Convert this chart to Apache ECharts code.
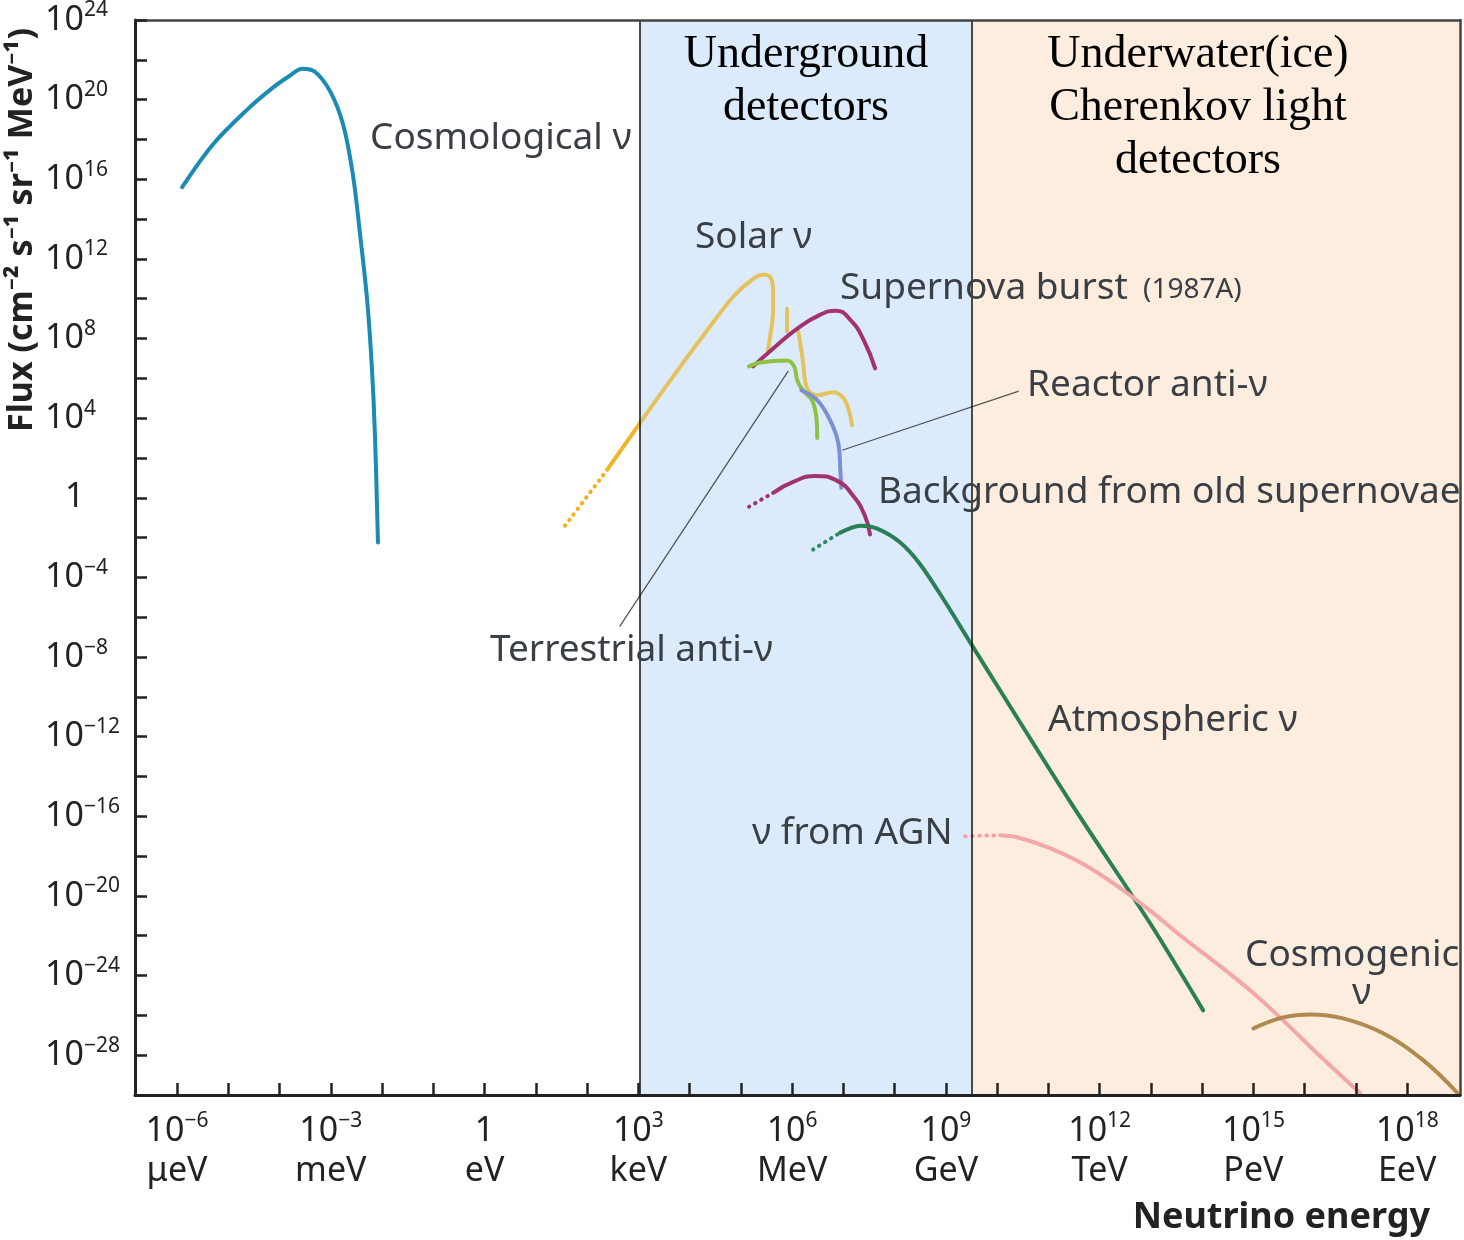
<!DOCTYPE html>
<html>
<head>
<meta charset="utf-8">
<script src="https://cdn.jsdelivr.net/npm/echarts@6/dist/echarts.min.js"></script>
<style>
  html, body { margin: 0; padding: 0; background: #fff; }
  #chart { width: 1464px; height: 1240px; }
</style>
</head>
<body>
<div id="chart"></div>
<script>
// every value is log10: energy in eV, flux in cm^-2 s^-1 sr^-1 MeV^-1
const xTicks = [-6, -5, -4, -3, -2, -1, 0, 1, 2, 3, 4, 5, 6, 7, 8, 9, 10, 11, 12, 13, 14, 15, 16, 17, 18];
const xLabelExp = [-6, -3, 0, 3, 6, 9, 12, 15, 18];
const xUnits = ["μeV", "meV", "eV", "keV", "MeV", "GeV", "TeV", "PeV", "EeV"];

const undergroundRange = [3.03, 9.51];
const underwaterRange = [9.51, 19.03];

const cosmoE = [-5.90, -5.30, -4.63, -4.13, -3.80, -3.56, -3.31, -3.01, -2.76, -2.57, -2.43, -2.29, -2.20, -2.14, -2.08];
const cosmoF = [15.6, 17.75, 19.5, 20.6, 21.2, 21.55, 21.4, 20.4, 18.75, 16.25, 13.25, 9.9, 6.6, 3.25, -2.25];

const solarDotE = [1.57, 2.39];
const solarDotF = [-1.4, 1.4];
const solarLowE = [2.39, 3.03];
const solarLowF = [1.4, 3.75];
const solarPpE = [3.03, 3.68, 4.34, 4.85, 5.24, 5.43, 5.57, 5.63, 5.63, 5.57, 5.53];
const solarPpF = [3.75, 6.1, 8.4, 10.1, 11.0, 11.2, 11.1, 10.4, 9.4, 8.1, 7.4];
const solarBeE = [5.90, 5.90];
const solarBeF = [9.5, 8.35];
const solarBE = [6.12, 6.21, 6.29, 6.49, 6.80, 7.03, 7.17];
const solarBF = [8.35, 6.9, 5.5, 5.15, 5.3, 4.9, 3.65];

const burstE = [5.24, 5.63, 6.10, 6.55, 6.85, 7.15, 7.40, 7.62];
const burstF = [6.6, 7.5, 8.5, 9.2, 9.4, 8.9, 7.9, 6.5];

const terrE = [5.16, 5.38, 5.90, 6.04, 6.10, 6.21, 6.39, 6.47, 6.49];
const terrF = [6.6, 6.8, 6.9, 6.6, 5.9, 5.4, 4.9, 4.1, 3.0];

const reactorE = [6.18, 6.49, 6.74, 6.90, 6.94, 6.96];
const reactorF = [5.4, 4.9, 3.9, 2.75, 1.4, 0.5];

const relicDotE = [5.16, 5.63];
const relicDotF = [-0.45, 0.25];
const relicE = [5.63, 6.02, 6.45, 6.88, 7.19, 7.42, 7.52];
const relicF = [0.25, 0.8, 1.1, 0.85, 0.1, -0.9, -1.85];

const atmoDotE = [6.41, 6.94];
const atmoDotF = [-2.6, -1.75];
const atmoE = [6.94, 7.33, 7.66, 8.11, 8.50, 8.99, 9.47, 11.42, 12.99, 14.02];
const atmoF = [-1.75, -1.4, -1.55, -2.25, -3.35, -5.25, -7.25, -15.25, -21.4, -25.75];

const agnDotE = [9.38, 10.06];
const agnDotF = [-17.0, -16.95];
const agnE = [10.06, 10.39, 11.03, 11.68, 12.34, 12.99, 13.63, 14.29, 14.94, 15.58, 16.24, 17.08];
const agnF = [-16.95, -17.05, -17.6, -18.4, -19.5, -20.75, -22.1, -23.4, -24.75, -26.25, -27.9, -29.9];

const cosmogenicE = [15.0, 15.58, 16.11, 16.75, 17.53, 18.31, 18.98];
const cosmogenicF = [-26.65, -26.1, -25.95, -26.15, -26.9, -28.25, -29.9];

const reactorLeaderE = [6.99, 10.41];
const reactorLeaderF = [2.4, 5.35];
const terrLeaderE = [5.92, 2.64];
const terrLeaderF = [6.35, -6.45];

const zip = (e, f) => e.map((v, i) => [v, f[i]]);
const exp = (v) => (v < 0 ? "\u2212" + -v : "" + v);

const chart = echarts.init(document.getElementById("chart"));

function curve(name, e, f, color, opts) {
  opts = opts || {};
  return {
    name: name,
    type: "line",
    data: zip(e, f),
    smooth: opts.smooth === undefined ? 0.4 : opts.smooth,
    symbol: "none",
    silent: true,
    z: 3,
    lineStyle: {
      color: color,
      width: opts.width || 4,
      type: opts.dotted ? [0.5, 6.5] : "solid",
      cap: "round",
    },
  };
}

const labelFont = '"Noto Sans", sans-serif';
const tickRich = {
  b: { fontSize: 34, lineHeight: 40, color: "#222", fontFamily: labelFont },
  s: { fontSize: 21, lineHeight: 24, color: "#222", fontFamily: labelFont, verticalAlign: "top" },
  u: { fontSize: 34, lineHeight: 40, color: "#222", fontFamily: labelFont },
  one: { fontSize: 34, lineHeight: 40, color: "#222", fontFamily: labelFont, padding: [0, 0, 0, 20] },
};

function txt(text, x, y, size) {
  return {
    type: "text",
    x: x,
    y: y,
    z: 20,
    silent: true,
    style: {
      text: text,
      fill: "#3a3f46",
      font: size + "px " + labelFont,
      align: "left",
      verticalAlign: "middle",
    },
  };
}

function serif(text, x, y) {
  return {
    type: "text",
    x: x,
    y: y,
    z: 20,
    silent: true,
    style: {
      text: text,
      fill: "#000",
      font: '46px "Liberation Serif", serif',
      align: "center",
      verticalAlign: "top",
      lineHeight: 53,
    },
  };
}

const frameAxis = { show: true, onZero: false, lineStyle: { color: "#444", width: 2.5 } };

const option = {
  animation: false,
  grid: { left: 135, right: 4, top: 15, bottom: 145 },
  xAxis: [
    {
      type: "value",
      min: -6.82,
      max: 19.03,
      z: 10,
      axisLine: { onZero: false, lineStyle: { color: "#222", width: 3 } },
      axisTick: { inside: true, length: 12, customValues: xTicks, lineStyle: { color: "#222", width: 2.5 } },
      axisLabel: {
        customValues: xLabelExp,
        margin: 16,
        formatter: (v) => {
          const i = xLabelExp.indexOf(v);
          const top = v === 0 ? "{b|1}" : "{b|10}{s|" + exp(v) + "}";
          return top + "\n{u|" + xUnits[i] + "}";
        },
        rich: tickRich,
      },
      splitLine: { show: false },
    },
    {
      type: "value",
      position: "top",
      min: -6.82,
      max: 19.03,
      z: 10,
      axisLine: frameAxis,
      axisTick: { show: false },
      axisLabel: { show: false },
      splitLine: { show: false },
    },
  ],
  yAxis: [
    {
      type: "value",
      min: -30,
      max: 24,
      interval: 2,
      z: 10,
      axisLine: { show: true, onZero: false, lineStyle: { color: "#222", width: 3 } },
      axisTick: { show: true, inside: true, length: 12, lineStyle: { color: "#222", width: 2.5 } },
      axisLabel: {
        align: "left",
        margin: 90,
        formatter: (v) => (v % 4 !== 0 ? "" : v === 0 ? "{one|1}" : "{b|10}{s|" + exp(v) + "}"),
        rich: tickRich,
      },
      splitLine: { show: false },
    },
    {
      type: "value",
      position: "right",
      min: -30,
      max: 24,
      interval: 2,
      z: 10,
      axisLine: frameAxis,
      axisTick: { show: false },
      axisLabel: { show: false },
      splitLine: { show: false },
    },
  ],
  series: [
    {
      name: "regions",
      type: "line",
      data: [],
      z: 1,
      silent: true,
      markArea: {
        silent: true,
        data: [
          [{ xAxis: undergroundRange[0], itemStyle: { color: "#dcebfc" } }, { xAxis: undergroundRange[1] }],
          [{ xAxis: underwaterRange[0], itemStyle: { color: "#fdeddf" } }, { xAxis: underwaterRange[1] }],
        ],
      },
      markLine: {
        silent: true,
        symbol: "none",
        label: { show: false },
        lineStyle: { color: "#111", width: 1.5, type: "solid" },
        data: [{ xAxis: undergroundRange[0] }, { xAxis: undergroundRange[1] }],
      },
    },
    curve("Cosmological", cosmoE, cosmoF, "#1a8bb2", { smooth: 0.35 }),
    curve("Solar dotted", solarDotE, solarDotF, "#f2b01e", { dotted: true, width: 4 }),
    curve("Solar low", solarLowE, solarLowF, "#f2b425", { smooth: 0 }),
    curve("Solar pp", solarPpE, solarPpF, "#e4c35e", { smooth: 0.35 }),
    curve("Solar Be", solarBeE, solarBeF, "#e4c35e", { smooth: 0 }),
    curve("Solar B", solarBE, solarBF, "#e4c35e", { smooth: 0.35 }),
    curve("Supernova burst", burstE, burstF, "#a3336e", { smooth: 0.5 }),
    curve("Terrestrial", terrE, terrF, "#8cc342", { smooth: 0.35 }),
    curve("Reactor", reactorE, reactorF, "#7b8fd2"),
    curve("Relic dotted", relicDotE, relicDotF, "#a3336e", { dotted: true }),
    curve("Relic", relicE, relicF, "#a3336e", { smooth: 0.5 }),
    curve("Atmospheric dotted", atmoDotE, atmoDotF, "#2b8a63", { dotted: true }),
    curve("Atmospheric", atmoE, atmoF, "#2b7f56", { smooth: 0.3 }),
    curve("AGN dotted", agnDotE, agnDotF, "#f2a0a3", { dotted: true }),
    curve("AGN", agnE, agnF, "#f3a7a8", { smooth: 0.3 }),
    curve("Cosmogenic", cosmogenicE, cosmogenicF, "#b08a4e", { smooth: 0.4 }),
    curve("Reactor leader", reactorLeaderE, reactorLeaderF, "#555", { smooth: 0, width: 1.3 }),
    curve("Terrestrial leader", terrLeaderE, terrLeaderF, "#555", { smooth: 0, width: 1.3 }),
  ],
  graphic: [
    serif("Underground\ndetectors", 806, 28),
    serif("Underwater(ice)\nCherenkov light\ndetectors", 1198, 28),
    txt("Cosmological ν", 370, 138, 37),
    txt("Solar ν", 695, 237, 37),
    txt("Supernova burst", 840, 288, 37),
    txt("(1987A)", 1143, 290, 28),
    txt("Reactor anti-ν", 1027, 385, 37),
    txt("Background from old supernovae", 878, 492, 37),
    txt("Terrestrial anti-ν", 490, 650, 37),
    txt("Atmospheric ν", 1048, 720, 37),
    txt("ν from AGN", 752, 833, 37),
    txt("Cosmogenic", 1245, 955, 37),
    txt("ν", 1352, 993, 37),
    {
      type: "text",
      x: 22,
      y: 230,
      rotation: Math.PI / 2,
      z: 20,
      silent: true,
      style: {
        text: "Flux (cm⁻² s⁻¹ sr⁻¹ MeV⁻¹)",
        fill: "#222",
        font: 'bold 34px "Noto Sans", sans-serif',
        align: "center",
        verticalAlign: "middle",
      },
    },
    {
      type: "text",
      x: 1430,
      y: 1218,
      z: 20,
      silent: true,
      style: {
        text: "Neutrino energy",
        fill: "#222",
        font: 'bold 36px "Noto Sans", sans-serif',
        align: "right",
        verticalAlign: "middle",
      },
    },
  ],
};

chart.setOption(option);
window.addEventListener("resize", () => chart.resize());
</script>
</body>
</html>
